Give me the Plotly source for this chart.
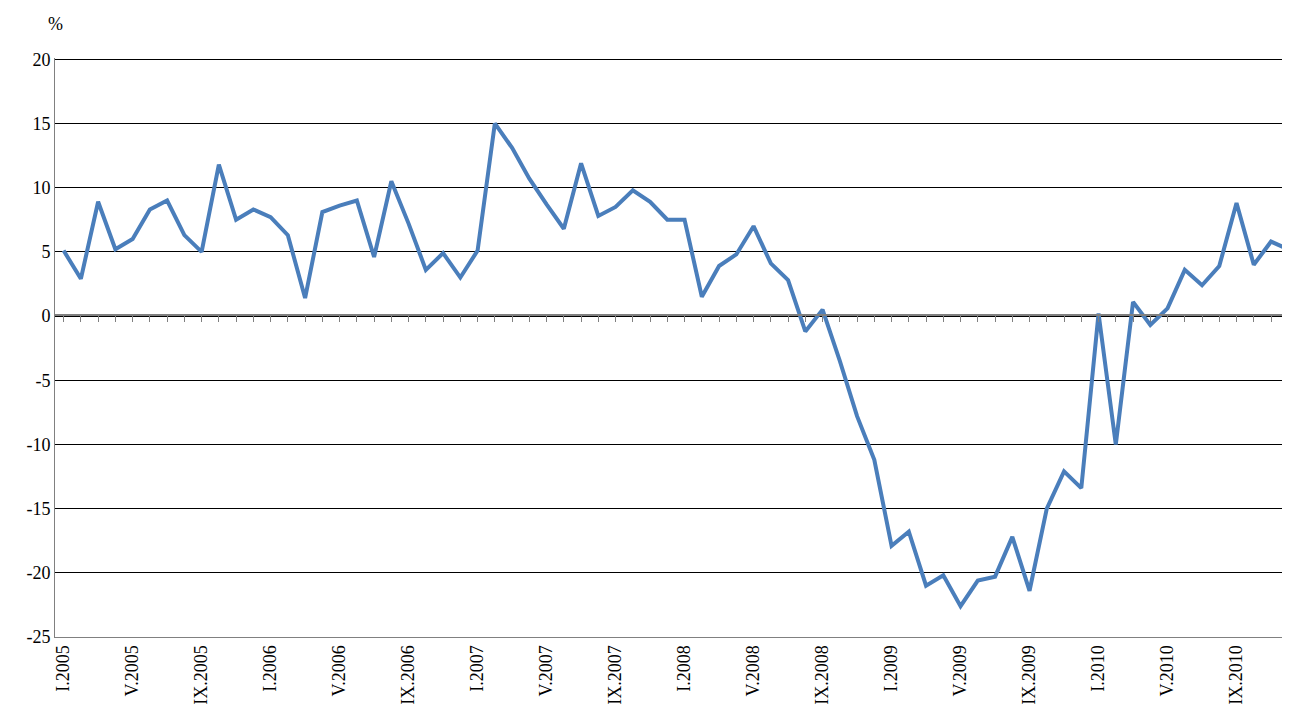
import plotly.graph_objects as go

roman = ["I","II","III","IV","V","VI","VII","VIII","IX","X","XI","XII"]
years = [2005, 2006, 2007, 2008, 2009, 2010]
months = [f"{r}.{y}" for y in years for r in roman]
values = [5.1, 2.9, 8.9, 5.2, 6.0, 8.3, 9.0, 6.3, 5.0, 11.8, 7.5, 8.3,
          7.7, 6.3, 1.4, 8.1, 8.6, 9.0, 4.6, 10.5, 7.2, 3.6, 4.9, 3.0,
          5.1, 15.0, 13.1, 10.7, 8.7, 6.8, 11.9, 7.8, 8.5, 9.8, 8.9, 7.5,
          7.5, 1.5, 3.9, 4.8, 7.0, 4.1, 2.8, -1.2, 0.5, -3.5, -7.8, -11.2,
          -17.9, -16.8, -21.0, -20.2, -22.6, -20.6, -20.3, -17.2, -21.4, -15.0, -12.1, -13.4,
          0.2, -10.0, 1.1, -0.7, 0.6, 3.6, 2.4, 3.9, 8.8, 4.0, 5.8, 5.2]
tick_labels = months[::4]
y_ticks = list(range(-25, 21, 5))

fig = go.Figure()
fig.add_trace(go.Scatter(x=months, y=values, mode="lines",
                         line=dict(color="#4a7ebb", width=4), showlegend=False))
fig.add_trace(go.Scatter(x=months, y=[None]*len(months), xaxis="x2", showlegend=False))
font = dict(family="Liberation Serif", size=18, color="black")
fig.update_layout(
    width=1282, height=707, margin=dict(l=47, r=0, t=50, b=78),
    paper_bgcolor="white", plot_bgcolor="white", font=font,
    xaxis=dict(type="category", tickmode="array", tickvals=tick_labels, ticktext=tick_labels,
               tickangle=-90, showline=True, linecolor="#808080", linewidth=1,
               showgrid=False, ticks="", range=[-0.5, 71.1], automargin=False),
    xaxis2=dict(type="category", overlaying="x", anchor="free", position=(25.05/45.1),
                matches="x", showline=True, linecolor="#808080", linewidth=2,
                ticks="outside", ticklen=6, tickcolor="#808080", showticklabels=False,
                showgrid=False, dtick=1, automargin=False),
    yaxis=dict(range=[-25, 20.1], tickvals=y_ticks, ticktext=[str(v) for v in y_ticks],
               showgrid=True, gridcolor="black", gridwidth=1, zeroline=False, showline=True,
               linecolor="#808080", linewidth=1, ticks="", automargin=False),
    annotations=[dict(text="%", x=0.0, y=1.0, xref="paper", yref="paper", showarrow=False,
                      xanchor="right", yanchor="bottom", yshift=22, xshift=10)],
)
fig.write_html("out.html")
